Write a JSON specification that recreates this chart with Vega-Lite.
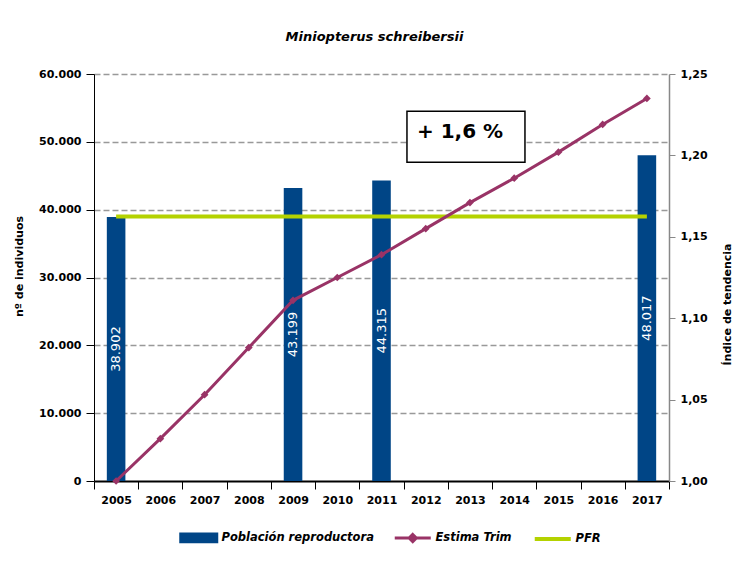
{
  "$schema": "https://vega.github.io/schema/vega-lite/v6.json",
  "width": 575,
  "height": 407,
  "autosize": {"type": "none"},
  "padding": {"left": 94, "top": 74, "right": 72, "bottom": 82},
  "background": "white",
  "config": {
    "locale": {"number": {"decimal": ",", "thousands": ".", "grouping": [3], "currency": ["", " €"]}},
    "font": "DejaVu Sans",
    "view": {"stroke": null},
    "axis": {
      "labelFont": "DejaVu Sans",
      "labelFontWeight": "bold",
      "labelFontSize": 11,
      "labelColor": "black",
      "titleFont": "DejaVu Sans",
      "titleFontWeight": "bold",
      "titleFontSize": 11,
      "titleColor": "black"
    }
  },
  "title": {
    "text": "Miniopterus schreibersii",
    "font": "DejaVu Sans",
    "fontSize": 13,
    "fontWeight": "bold",
    "fontStyle": "italic",
    "color": "black",
    "offset": 24,
    "dx": -7
  },
  "datasets": {
    "poblacion": [
      {"year": "2005", "serie": "Población reproductora", "individuos": 38902},
      {"year": "2009", "serie": "Población reproductora", "individuos": 43199},
      {"year": "2011", "serie": "Población reproductora", "individuos": 44315},
      {"year": "2017", "serie": "Población reproductora", "individuos": 48017}
    ],
    "estima": [
      {"year": "2005", "serie": "Estima Trim", "indice": 1.000},
      {"year": "2006", "serie": "Estima Trim", "indice": 1.026},
      {"year": "2007", "serie": "Estima Trim", "indice": 1.053},
      {"year": "2008", "serie": "Estima Trim", "indice": 1.082},
      {"year": "2009", "serie": "Estima Trim", "indice": 1.111},
      {"year": "2010", "serie": "Estima Trim", "indice": 1.125},
      {"year": "2011", "serie": "Estima Trim", "indice": 1.139},
      {"year": "2012", "serie": "Estima Trim", "indice": 1.155},
      {"year": "2013", "serie": "Estima Trim", "indice": 1.171},
      {"year": "2014", "serie": "Estima Trim", "indice": 1.186},
      {"year": "2015", "serie": "Estima Trim", "indice": 1.202},
      {"year": "2016", "serie": "Estima Trim", "indice": 1.219},
      {"year": "2017", "serie": "Estima Trim", "indice": 1.235}
    ],
    "pfr": [
      {"year": "2005", "serie": "PFR", "individuos": 39000},
      {"year": "2006", "serie": "PFR", "individuos": 39000},
      {"year": "2007", "serie": "PFR", "individuos": 39000},
      {"year": "2008", "serie": "PFR", "individuos": 39000},
      {"year": "2009", "serie": "PFR", "individuos": 39000},
      {"year": "2010", "serie": "PFR", "individuos": 39000},
      {"year": "2011", "serie": "PFR", "individuos": 39000},
      {"year": "2012", "serie": "PFR", "individuos": 39000},
      {"year": "2013", "serie": "PFR", "individuos": 39000},
      {"year": "2014", "serie": "PFR", "individuos": 39000},
      {"year": "2015", "serie": "PFR", "individuos": 39000},
      {"year": "2016", "serie": "PFR", "individuos": 39000},
      {"year": "2017", "serie": "PFR", "individuos": 39000}
    ],
    "nota": [{"texto": "+ 1,6 %"}]
  },
  "layer": [
    {
      "layer": [
        {
          "data": {"name": "poblacion"},
          "mark": {"type": "bar", "width": {"band": 0.42}},
          "encoding": {
            "x": {
              "field": "year",
              "type": "ordinal",
              "scale": {
                "domain": ["2005", "2006", "2007", "2008", "2009", "2010", "2011", "2012", "2013", "2014", "2015", "2016", "2017"],
                "paddingInner": 0,
                "paddingOuter": 0
              },
              "axis": {
                "title": null,
                "labelAngle": 0,
                "tickBand": "extent",
                "domainColor": "black",
                "domainWidth": 2,
                "tickColor": "black",
                "tickSize": 8,
                "tickWidth": 1,
                "labelPadding": 5
              }
            },
            "y": {
              "field": "individuos",
              "type": "quantitative",
              "scale": {"domain": [0, 60000], "nice": false},
              "axis": {
                "title": "nº de individuos",
                "values": [0, 10000, 20000, 30000, 40000, 50000, 60000],
                "format": ",d",
                "grid": true,
                "gridColor": {"condition": {"test": "datum.value === 0", "value": "transparent"}, "value": "#999999"},
                "gridDash": [6, 3],
                "gridWidth": 1.5,
                "domainColor": "black",
                "tickColor": "black",
                "tickSize": 8,
                "labelPadding": 5,
                "titlePadding": 14,
                "titleY": 192
              }
            },
            "color": {
              "field": "serie",
              "type": "nominal",
              "scale": {
                "domain": ["Población reproductora", "Estima Trim", "PFR"],
                "range": ["#004586", "#993366", "#B4D200"]
              },
              "legend": {
                "orient": "none",
                "legendX": 99,
                "legendY": 458,
                "direction": "horizontal",
                "title": null,
                "labelFont": "DejaVu Sans",
                "labelFontSize": 11.5,
                "labelFontWeight": "bold",
                "labelFontStyle": "italic",
                "labelColor": "black",
                "symbolSize": 1296,
                "labelOffset": 17,
                "columnPadding": 14,
                "encode": {
                  "symbols": {
                    "update": {
                      "shape": {"signal": "datum.value === 'Población reproductora' ? 'M-1,-0.22H1V0.22H-1Z' : datum.value === 'Estima Trim' ? 'M-1,0H1M0,-0.2L0.2,0L0,0.2L-0.2,0Z' : 'M-1,0H1'"},
                      "fill": {"signal": "datum.value === 'PFR' ? 'transparent' : scale('color', datum.value)"},
                      "stroke": {"signal": "datum.value === 'Población reproductora' ? 'transparent' : scale('color', datum.value)"},
                      "strokeWidth": {"signal": "datum.value === 'PFR' ? 4 : 3"},
                      "opacity": {"value": 1}
                    }
                  }
                }
              }
            }
          }
        },
        {
          "data": {"name": "pfr"},
          "mark": {"type": "line", "strokeWidth": 4},
          "encoding": {
            "x": {"field": "year", "type": "ordinal"},
            "y": {"field": "individuos", "type": "quantitative"},
            "color": {"field": "serie", "type": "nominal"}
          }
        },
        {
          "data": {"name": "nota"},
          "mark": {"type": "bar", "width": 118, "xOffset": -4, "fill": "white", "stroke": "black", "strokeWidth": 1.5},
          "encoding": {
            "x": {"datum": "2013", "type": "ordinal"},
            "y": {"datum": 54500, "type": "quantitative"},
            "y2": {"datum": 47000}
          }
        },
        {
          "data": {"name": "nota"},
          "mark": {"type": "text", "align": "left", "baseline": "alphabetic", "dx": -53, "fontSize": 20, "fontWeight": "bold", "font": "DejaVu Sans", "color": "black"},
          "encoding": {
            "x": {"datum": "2013", "type": "ordinal"},
            "y": {"datum": 50600, "type": "quantitative"},
            "text": {"field": "texto"}
          }
        }
      ]
    },
    {
      "data": {"name": "poblacion"},
      "mark": {"type": "text", "angle": 270, "color": "white", "fontSize": 13, "font": "DejaVu Sans", "baseline": "middle", "align": "center"},
      "encoding": {
        "x": {"field": "year", "type": "ordinal"},
        "y": {"field": "individuos", "type": "quantitative", "scale": {"domain": [0, 120000], "nice": false}, "axis": null},
        "text": {"field": "individuos", "type": "quantitative", "format": ",d"}
      }
    },
    {
      "data": {"name": "estima"},
      "mark": {"type": "line", "strokeWidth": 3, "point": {"shape": "diamond", "size": 60, "filled": true}},
      "encoding": {
        "x": {"field": "year", "type": "ordinal"},
        "y": {
          "field": "indice",
          "type": "quantitative",
          "scale": {"domain": [1, 1.25], "nice": false, "zero": false},
          "axis": {
            "orient": "right",
            "title": "Índice de tendencia",
            "values": [1, 1.05, 1.1, 1.15, 1.2, 1.25],
            "format": ".2f",
            "grid": false,
            "domainColor": "#888888",
            "domainWidth": 1.5,
            "tickColor": "#888888",
            "tickSize": 6,
            "labelPadding": 5,
            "titleAngle": 270,
            "titlePadding": 25,
            "titleY": 230
          }
        },
        "color": {"field": "serie", "type": "nominal"}
      }
    }
  ],
  "resolve": {"scale": {"y": "independent"}}
}
